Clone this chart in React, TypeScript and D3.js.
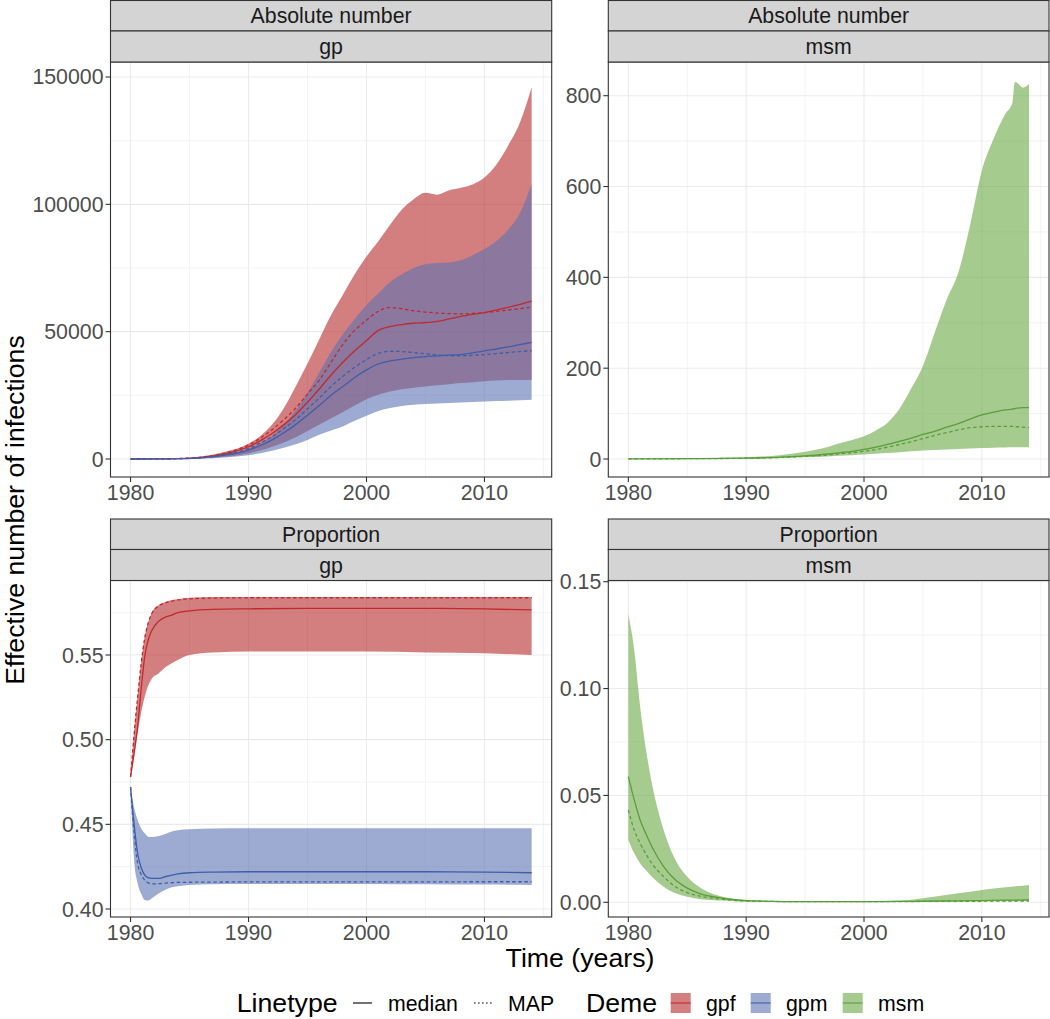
import React from "react";
import * as d3 from "d3";

// ---------------- DATA ----------------
const demes = ["gpf", "gpm", "msm"];
const demeLineColors = ["#BF2A30", "#3F5EA8", "#5A9E3A"];
const demeFillColors = ["#B72A2A", "#5C71B4", "#6BA844"];
const xTicks = [1980, 1990, 2000, 2010];
const xMinor = [1985, 1995, 2005, 2015];

// Absolute number, gp
const yearsAbsGp = [1980, 1982, 1984, 1986, 1988, 1990, 1991, 1992, 1993, 1994, 1995, 1996, 1997, 1998, 1999, 2000, 2001, 2002, 2003, 2004, 2005, 2006, 2007, 2008, 2009, 2010, 2011, 2012, 2013, 2014];
const gpfAbsHi = [0, 60, 300, 1000, 2800, 6000, 9000, 13500, 20000, 28500, 37500, 47000, 56500, 64500, 72500, 79500, 85500, 92000, 98000, 102000, 104500, 103800, 105500, 106500, 107800, 110500, 115500, 123000, 132000, 146000];
const gpfAbsLo = [0, 10, 80, 300, 900, 2200, 3300, 4800, 6500, 8500, 11000, 13500, 16000, 18500, 21000, 23500, 25200, 26500, 27400, 28000, 28500, 29000, 29400, 29800, 30100, 30500, 30800, 31000, 31000, 31000];
const gpfAbsMed = [0, 30, 150, 600, 2000, 4800, 7200, 10000, 13500, 17500, 22300, 27500, 33000, 38000, 42500, 46500, 50500, 52000, 52800, 53300, 53600, 54000, 55000, 56000, 56800, 57500, 58500, 59500, 60700, 62000];
const gpfAbsMap = [0, 35, 170, 700, 2300, 5500, 8200, 11500, 15500, 20000, 25500, 31000, 38000, 45000, 50500, 54500, 58000, 59500, 59000, 58200, 57700, 57300, 57100, 57000, 57200, 57500, 58000, 58500, 59000, 59600];
const gpmAbsHi = [0, 40, 150, 550, 1700, 4000, 6200, 9000, 13500, 19000, 26000, 34000, 42000, 49000, 55000, 60500, 65000, 69500, 72500, 75000, 76500, 77000, 77200, 78000, 80000, 82500, 85500, 90000, 96500, 108000];
const gpmAbsLo = [0, 5, 50, 200, 600, 1500, 2300, 3200, 4400, 5800, 7500, 9500, 11200, 12800, 15000, 17000, 18800, 20000, 20800, 21300, 21600, 21800, 22000, 22200, 22400, 22600, 22800, 22900, 23100, 23300];
const gpmAbsMed = [0, 25, 120, 450, 1500, 3500, 5300, 7500, 10300, 13500, 17200, 21000, 25000, 28500, 32000, 35000, 37300, 38500, 39200, 39800, 40200, 40500, 40800, 41000, 41700, 42500, 43200, 44000, 44900, 45800];
const gpmAbsMap = [0, 28, 130, 500, 1700, 4200, 6300, 8800, 12000, 15500, 19700, 24000, 28500, 32500, 36000, 39000, 41500, 42300, 42200, 41800, 41300, 40800, 40600, 40500, 40700, 41000, 41400, 41800, 42200, 42500];

// Absolute number, msm
const yearsAbsMsm = [1980, 1985, 1990, 1993, 1995, 1997, 1998, 1999, 2000, 2001, 2002, 2003, 2004, 2005, 2006, 2007, 2008, 2009, 2010, 2011, 2012, 2012.6, 2012.8, 2013, 2013.5, 2014];
const msmAbsHi = [0.5, 1.5, 4, 9, 16, 27, 35, 42, 50, 63, 80, 110, 155, 205, 278, 350, 410, 515, 635, 705, 760, 785, 830, 828, 818, 826];
const msmAbsLo = [0.3, 0.8, 1.5, 2.5, 4, 5.5, 7, 8.5, 10, 11.5, 13, 15, 17, 19, 20, 21, 22, 23, 24, 25, 25.5, 26, 26, 26, 26, 26];
const msmAbsMed = [0.3, 0.8, 2, 4, 7, 11, 14, 17, 21, 26, 32, 39, 46, 54, 61, 70, 78, 88, 97, 103, 108, 110, 111, 112, 113, 113];
const msmAbsMap = [0.3, 0.7, 1.7, 3.5, 6, 9, 11.5, 14, 17, 21, 26, 32, 38, 45, 52, 58, 64, 69, 71, 72, 72, 72, 71.5, 71, 70, 69];

// Proportion, gp
const yearsPropGp = [1980, 1980.3, 1980.6, 1980.9, 1981.2, 1981.5, 1981.8, 1982.4, 1983, 1983.5, 1984, 1985, 1987, 1990, 1995, 2000, 2005, 2010, 2014];
const gpfPropHi = [0.478, 0.505, 0.526, 0.546, 0.561, 0.5695, 0.575, 0.5795, 0.5815, 0.5825, 0.583, 0.5838, 0.5842, 0.5843, 0.5843, 0.5843, 0.5843, 0.5843, 0.5843];
const gpfPropLo = [0.478, 0.49, 0.504, 0.516, 0.5254, 0.532, 0.536, 0.5392, 0.543, 0.5451, 0.547, 0.55, 0.5515, 0.552, 0.552, 0.552, 0.5515, 0.551, 0.55];
const gpfPropMed = [0.478, 0.492, 0.5077, 0.53, 0.549, 0.559, 0.5645, 0.57, 0.5725, 0.5736, 0.575, 0.5761, 0.577, 0.5773, 0.5775, 0.5775, 0.5775, 0.5772, 0.5766];
const gpfPropMap = [0.478, 0.503, 0.525, 0.545, 0.56, 0.569, 0.5745, 0.579, 0.581, 0.5818, 0.5825, 0.5832, 0.5836, 0.5838, 0.5838, 0.5838, 0.5838, 0.5838, 0.5838];
const gpmPropHi = [0.472, 0.46, 0.4526, 0.4475, 0.4447, 0.4427, 0.4425, 0.4431, 0.4445, 0.4457, 0.4465, 0.4471, 0.4475, 0.4477, 0.4477, 0.4477, 0.4477, 0.4477, 0.4477];
const gpmPropLo = [0.472, 0.429, 0.4152, 0.409, 0.4053, 0.405, 0.4063, 0.4093, 0.4115, 0.4128, 0.4135, 0.4142, 0.4146, 0.4148, 0.4148, 0.4148, 0.4146, 0.4144, 0.4142];
const gpmPropMed = [0.472, 0.45, 0.4329, 0.4245, 0.42, 0.4185, 0.4181, 0.4181, 0.4192, 0.42, 0.4207, 0.4214, 0.4218, 0.422, 0.422, 0.422, 0.422, 0.4218, 0.4214];
const gpmPropMap = [0.472, 0.445, 0.427, 0.4205, 0.4171, 0.4155, 0.4148, 0.415, 0.4153, 0.4155, 0.4157, 0.4158, 0.4159, 0.416, 0.416, 0.416, 0.416, 0.4161, 0.4161];

// Proportion, msm
const yearsPropMsm = [1980, 1980.5, 1981, 1981.5, 1982, 1983, 1984, 1985, 1986, 1988, 1990, 1995, 2000, 2003, 2005, 2008, 2010, 2012, 2014];
const msmPropHi = [0.135, 0.118, 0.0915, 0.0713, 0.0557, 0.0338, 0.0198, 0.012, 0.0073, 0.0026, 0.0011, 0.0004, 0.0004, 0.0008, 0.0019, 0.0042, 0.0058, 0.007, 0.0081];
const msmPropLo = [0.0292, 0.0229, 0.0182, 0.015, 0.012, 0.0073, 0.0042, 0.0026, 0.0016, 0.0008, 0.0003, 0.0001, 0.0001, 0.0002, 0.0003, 0.0004, 0.0005, 0.0005, 0.0006];
const msmPropMed = [0.0588, 0.0479, 0.0385, 0.032, 0.026, 0.0167, 0.0104, 0.0066, 0.0042, 0.0019, 0.0008, 0.0003, 0.0003, 0.0004, 0.0005, 0.0007, 0.0008, 0.001, 0.0011];
const msmPropMap = [0.0432, 0.0338, 0.0276, 0.0225, 0.0182, 0.012, 0.0073, 0.0045, 0.003, 0.0014, 0.0006, 0.0003, 0.0003, 0.0003, 0.0004, 0.0005, 0.0005, 0.0006, 0.0006];

// ---------------- LAYOUT ----------------
const W = 1050;
const H = 1019;
const FONT = "'Liberation Sans', Arial, Helvetica, sans-serif";
const COLS = [
  { x0: 110.5, x1: 551.7 },
  { x0: 608.3, x1: 1049 },
];
const ROWS = [
  { s0: 0.5, s1: 31, s2: 62, y0: 62, y1: 477 },
  { s0: 519, s1: 549.5, s2: 580.5, y0: 580.5, y1: 917 },
];
const X_DOMAIN = [1978.3, 2015.7];

type Series = { line: string; fill: string; years: number[]; lo: number[]; hi: number[]; med: number[]; map: number[] };
type PanelDef = {
  row: number;
  col: number;
  strips: string[];
  yDomain: number[];
  yTicks: number[];
  yMinor: number[];
  fmt: (v: number) => string;
  series: Series[];
};

const panels: PanelDef[] = [
  {
    row: 0, col: 0, strips: ["Absolute number", "gp"],
    yDomain: [-7068, 155890], yTicks: [0, 50000, 100000, 150000], yMinor: [25000, 75000, 125000],
    fmt: (v) => d3.format("d")(v),
    series: [
      { line: demeLineColors[0], fill: demeFillColors[0], years: yearsAbsGp, lo: gpfAbsLo, hi: gpfAbsHi, med: gpfAbsMed, map: gpfAbsMap },
      { line: demeLineColors[1], fill: demeFillColors[1], years: yearsAbsGp, lo: gpmAbsLo, hi: gpmAbsHi, med: gpmAbsMed, map: gpmAbsMap },
    ],
  },
  {
    row: 0, col: 1, strips: ["Absolute number", "msm"],
    yDomain: [-39.6, 874.2], yTicks: [0, 200, 400, 600, 800], yMinor: [100, 300, 500, 700],
    fmt: (v) => d3.format("d")(v),
    series: [{ line: demeLineColors[2], fill: demeFillColors[2], years: yearsAbsMsm, lo: msmAbsLo, hi: msmAbsHi, med: msmAbsMed, map: msmAbsMap }],
  },
  {
    row: 1, col: 0, strips: ["Proportion", "gp"],
    yDomain: [0.39528, 0.594], yTicks: [0.4, 0.45, 0.5, 0.55], yMinor: [0.425, 0.475, 0.525, 0.575],
    fmt: (v) => d3.format(".2f")(v),
    series: [
      { line: demeLineColors[0], fill: demeFillColors[0], years: yearsPropGp, lo: gpfPropLo, hi: gpfPropHi, med: gpfPropMed, map: gpfPropMap },
      { line: demeLineColors[1], fill: demeFillColors[1], years: yearsPropGp, lo: gpmPropLo, hi: gpmPropHi, med: gpmPropMed, map: gpmPropMap },
    ],
  },
  {
    row: 1, col: 1, strips: ["Proportion", "msm"],
    yDomain: [-0.00688, 0.15056], yTicks: [0, 0.05, 0.1, 0.15], yMinor: [0.025, 0.075, 0.125],
    fmt: (v) => d3.format(".2f")(v),
    series: [{ line: demeLineColors[2], fill: demeFillColors[2], years: yearsPropMsm, lo: msmPropLo, hi: msmPropHi, med: msmPropMed, map: msmPropMap }],
  },
];

const GRID = "#EBEBEB";
const BORDER = "#333333";
const STRIP_FILL = "#D4D4D4";
const TICK_TEXT = "#4D4D4D";
const FILL_OPACITY = 0.6;
const LINE_W = 1.3;
const DASH = "3.5,2.6";

function Panel({ p, idx }: { p: PanelDef; idx: number }) {
  const c = COLS[p.col];
  const r = ROWS[p.row];
  const x = d3.scaleLinear().domain(X_DOMAIN).range([c.x0, c.x1]);
  const y = d3.scaleLinear().domain(p.yDomain).range([r.y1, r.y0]);
  const area = d3.area<number>().curve(d3.curveMonotoneX);
  const line = d3.line<number>().curve(d3.curveMonotoneX);
  const clipId = `clip${idx}`;
  const cx = (c.x0 + c.x1) / 2;
  return (
    <g>
      <defs>
        <clipPath id={clipId}>
          <rect x={c.x0} y={r.y0} width={c.x1 - c.x0} height={r.y1 - r.y0} />
        </clipPath>
      </defs>
      {xMinor.map((t) => (
        <line key={"xm" + t} x1={x(t)} x2={x(t)} y1={r.y0} y2={r.y1} stroke={GRID} strokeWidth={0.6} />
      ))}
      {p.yMinor.map((t) => (
        <line key={"ym" + t} x1={c.x0} x2={c.x1} y1={y(t)} y2={y(t)} stroke={GRID} strokeWidth={0.6} />
      ))}
      {xTicks.map((t) => (
        <line key={"xg" + t} x1={x(t)} x2={x(t)} y1={r.y0} y2={r.y1} stroke={GRID} strokeWidth={1.1} />
      ))}
      {p.yTicks.map((t) => (
        <line key={"yg" + t} x1={c.x0} x2={c.x1} y1={y(t)} y2={y(t)} stroke={GRID} strokeWidth={1.1} />
      ))}
      <g clipPath={`url(#${clipId})`}>
        {p.series.map((s, i) => {
          const a = area
            .x((_, k) => x(s.years[k]))
            .y0((_, k) => y(s.lo[k]))
            .y1((_, k) => y(s.hi[k]));
          return <path key={"a" + i} d={a(s.years) || ""} fill={s.fill} fillOpacity={FILL_OPACITY} stroke="none" />;
        })}
        {p.series.map((s, i) => {
          const dMed = line.x((_, k) => x(s.years[k])).y((_, k) => y(s.med[k]))(s.years) || "";
          const dMap = line.x((_, k) => x(s.years[k])).y((_, k) => y(s.map[k]))(s.years) || "";
          return (
            <g key={"l" + i}>
              <path d={dMed} fill="none" stroke={s.line} strokeWidth={LINE_W} />
              <path d={dMap} fill="none" stroke={s.line} strokeWidth={LINE_W} strokeDasharray={DASH} />
            </g>
          );
        })}
      </g>
      <rect x={c.x0} y={r.y0} width={c.x1 - c.x0} height={r.y1 - r.y0} fill="none" stroke={BORDER} strokeWidth={1.1} />
      <rect x={c.x0} y={r.s0} width={c.x1 - c.x0} height={r.s1 - r.s0} fill={STRIP_FILL} stroke={BORDER} strokeWidth={1.1} />
      <rect x={c.x0} y={r.s1} width={c.x1 - c.x0} height={r.s2 - r.s1} fill={STRIP_FILL} stroke={BORDER} strokeWidth={1.1} />
      <text x={cx} y={(r.s0 + r.s1) / 2 + 7.5} textAnchor="middle" fontSize={21.3} fill="#1A1A1A" fontFamily={FONT}>
        {p.strips[0]}
      </text>
      <text x={cx} y={(r.s1 + r.s2) / 2 + 7.5} textAnchor="middle" fontSize={21.3} fill="#1A1A1A" fontFamily={FONT}>
        {p.strips[1]}
      </text>
      {p.yTicks.map((t) => (
        <g key={"yt" + t}>
          <line x1={c.x0 - 5} x2={c.x0} y1={y(t)} y2={y(t)} stroke={BORDER} strokeWidth={1.1} />
          <text x={c.x0 - 7} y={y(t) + 7.5} textAnchor="end" fontSize={21.3} fill={TICK_TEXT} fontFamily={FONT}>
            {p.fmt(t)}
          </text>
        </g>
      ))}
      {xTicks.map((t) => (
        <g key={"xt" + t}>
          <line x1={x(t)} x2={x(t)} y1={r.y1} y2={r.y1 + 5} stroke={BORDER} strokeWidth={1.1} />
          <text x={x(t)} y={r.y1 + 22.5} textAnchor="middle" fontSize={21.3} fill={TICK_TEXT} fontFamily={FONT}>
            {t}
          </text>
        </g>
      ))}
    </g>
  );
}

function Legend() {
  const cy = 1003;
  const ty = 1010.5;
  const swatches = [670.7, 750.7, 842.7];
  const labelsX = [706, 786, 878];
  return (
    <g fontFamily={FONT}>
      <text x={236.7} y={1012} fontSize={26.7} fill="#000">Linetype</text>
      <line x1={353} x2={372} y1={cy} y2={cy} stroke="#000" strokeWidth={1.1} />
      <text x={388} y={ty} fontSize={21.3} fill="#000">median</text>
      <line x1={474} x2={493} y1={cy} y2={cy} stroke="#000" strokeWidth={1.1} strokeDasharray="1.6,2.4" />
      <text x={508} y={ty} fontSize={21.3} fill="#000">MAP</text>
      <text x={586} y={1012} fontSize={26.7} fill="#000">Deme</text>
      {demes.map((d, i) => (
        <g key={d}>
          <rect x={swatches[i]} y={cy - 10} width={20} height={20} fill={demeFillColors[i]} fillOpacity={FILL_OPACITY} />
          <line x1={swatches[i]} x2={swatches[i] + 20} y1={cy} y2={cy} stroke={demeLineColors[i]} strokeWidth={1.1} />
          <text x={labelsX[i]} y={ty} fontSize={21.3} fill="#000">{d}</text>
        </g>
      ))}
    </g>
  );
}

export default function App() {
  return (
    <svg
      width={W}
      height={H}
      viewBox={`0 0 ${W} ${H}`}
      style={{ position: "absolute", left: 0, top: 0, background: "#fff" }}
    >
      <rect x={0} y={0} width={W} height={H} fill="#fff" />
      {panels.map((p, i) => (
        <Panel key={i} p={p} idx={i} />
      ))}
      <text
        transform={`translate(24, 510) rotate(-90)`}
        textAnchor="middle"
        fontSize={26.7}
        fill="#000"
        fontFamily={FONT}
      >
        Effective number of infections
      </text>
      <text x={580} y={967} textAnchor="middle" fontSize={26.7} fill="#000" fontFamily={FONT}>
        Time (years)
      </text>
      <Legend />
    </svg>
  );
}
